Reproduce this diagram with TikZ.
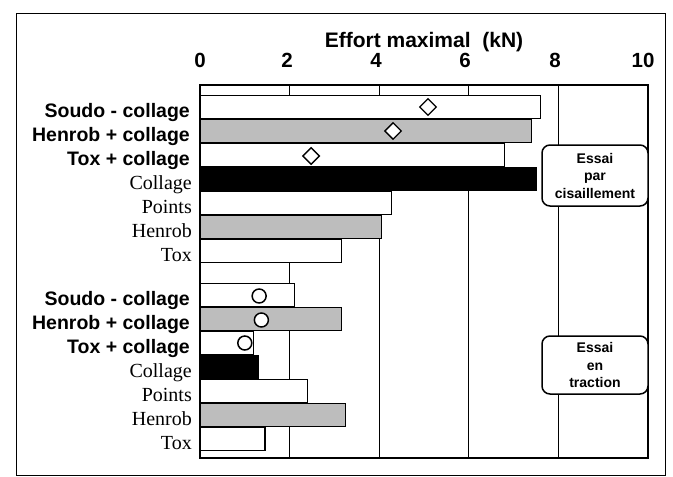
\documentclass[tikz,border=0pt]{standalone}
\usepackage{fontspec}
\setmainfont{Liberation Serif}
\setsansfont{Liberation Sans}
\usetikzlibrary{shapes.geometric}
\definecolor{barGray}{gray}{0.74}
\begin{document}
\begin{tikzpicture}[x=1pt,y=-1pt,
  sanslab/.style={anchor=base east, inner sep=0pt, font=\sffamily\bfseries\fontsize{19.5}{22}\selectfont},
  seriflab/.style={anchor=base east, inner sep=0pt, font=\fontsize{20}{22}\selectfont},
  numlab/.style={anchor=base, inner sep=0pt, font=\sffamily\bfseries\fontsize{20.5}{22}\selectfont},
  whitebar/.style={draw=black, line width=1.1pt, fill=white},
  graybar/.style={draw=black, line width=1.1pt, fill=barGray},
  blackbar/.style={draw=black, line width=1.1pt, fill=black},
  gridline/.style={line width=0.9pt},
  diam/.style={diamond, draw=black, fill=white, line width=1.3pt, minimum width=17pt, minimum height=17pt, inner sep=0pt},
  circ/.style={circle, draw=black, fill=white, line width=1.5pt, minimum size=14pt, inner sep=0pt},
  legendbox/.style={draw=black, line width=1.5pt, fill=white, rounded corners=8pt, align=center,
    minimum width=106pt, inner sep=0pt, font=\sffamily\bfseries\fontsize{14}{17.5}\selectfont}
]
\useasboundingbox (0,0) rectangle (673,477);
% outer frame
\draw[line width=1pt] (16,13) rectangle (665,475);
% title and axis numbers
\node[anchor=base, inner sep=0pt, font=\sffamily\bfseries\fontsize{21}{24}\selectfont] (title) at (424,47) {Effort maximal\ \ (kN)};
\node[numlab] (n0) at (200,67) {0};
\node[numlab] (n2) at (287,67) {2};
\node[numlab] (n4) at (376,67) {4};
\node[numlab] (n6) at (465,67) {6};
\node[numlab] (n8) at (555,67) {8};
\node[numlab] (n10) at (643,67) {10};
% grid lines
\foreach \g in {2,4,6,8} {
  \draw[gridline] ({200+44.8*\g},85) -- ({200+44.8*\g},458);
}
% bars: shear group
\draw[whitebar] (200,95.5) rectangle ({200+44.8*7.6},118.5);
\draw[graybar]  (200,119.5) rectangle ({200+44.8*7.4},142.5);
\draw[whitebar] (200,143.5) rectangle ({200+44.8*6.8},166.5);
\draw[blackbar] (200,167.5) rectangle ({200+44.8*7.5},190.5);
\draw[whitebar] (200,191.5) rectangle ({200+44.8*4.27},214.5);
\draw[graybar]  (200,215.5) rectangle ({200+44.8*4.05},238.5);
\draw[whitebar] (200,239.5) rectangle ({200+44.8*3.15},262.5);
% bars: tensile group
\draw[whitebar] (200,283.5) rectangle ({200+44.8*2.1},306.5);
\draw[graybar]  (200,307.5) rectangle ({200+44.8*3.15},330.5);
\draw[whitebar] (200,331.5) rectangle ({200+44.8*1.2},354.5);
\draw[blackbar] (200,355.5) rectangle ({200+44.8*1.3},378.5);
\draw[whitebar] (200,379.5) rectangle ({200+44.8*2.4},402.5);
\draw[graybar]  (200,403.5) rectangle ({200+44.8*3.25},426.5);
\draw[whitebar] (200,427.5) rectangle ({200+44.8*1.45},450.5);
% plot frame
\draw[line width=1.6pt] (200,85) rectangle (648,458);
% markers
\node[diam] (d1) at ({200+44.8*5.09},107) {};
\node[diam] (d2) at ({200+44.8*4.31},131) {};
\node[diam] (d3) at ({200+44.8*2.48},156) {};
\node[circ] (c1) at ({200+44.8*1.32},296) {};
\node[circ] (c2) at ({200+44.8*1.37},320) {};
\node[circ] (c3) at ({200+44.8*1.0},343) {};
% labels
\node[sanslab]  (l1) at (190,117.5) {Soudo - collage};
\node[sanslab]  (l2) at (190,141.5) {Henrob + collage};
\node[sanslab]  (l3) at (190,165.5) {Tox + collage};
\node[seriflab] (l4) at (192,189.5) {Collage};
\node[seriflab] (l5) at (192,213.5) {Points};
\node[seriflab] (l6) at (192,237.5) {Henrob};
\node[seriflab] (l7) at (192,261.5) {Tox};
\node[sanslab]  (l8) at (190,305.5) {Soudo - collage};
\node[sanslab]  (l9) at (190,329.5) {Henrob + collage};
\node[sanslab]  (l10) at (190,353.5) {Tox + collage};
\node[seriflab] (l11) at (192,377.5) {Collage};
\node[seriflab] (l12) at (192,401.5) {Points};
\node[seriflab] (l13) at (192,425.5) {Henrob};
\node[seriflab] (l14) at (192,449.5) {Tox};
% legend boxes
\node[legendbox, minimum height=61pt] (b1) at (595,175.5) {Essai\\par\\cisaillement};
\node[legendbox, minimum height=58pt] (b2) at (595,365) {Essai\\en\\traction};
\end{tikzpicture}
\end{document}
